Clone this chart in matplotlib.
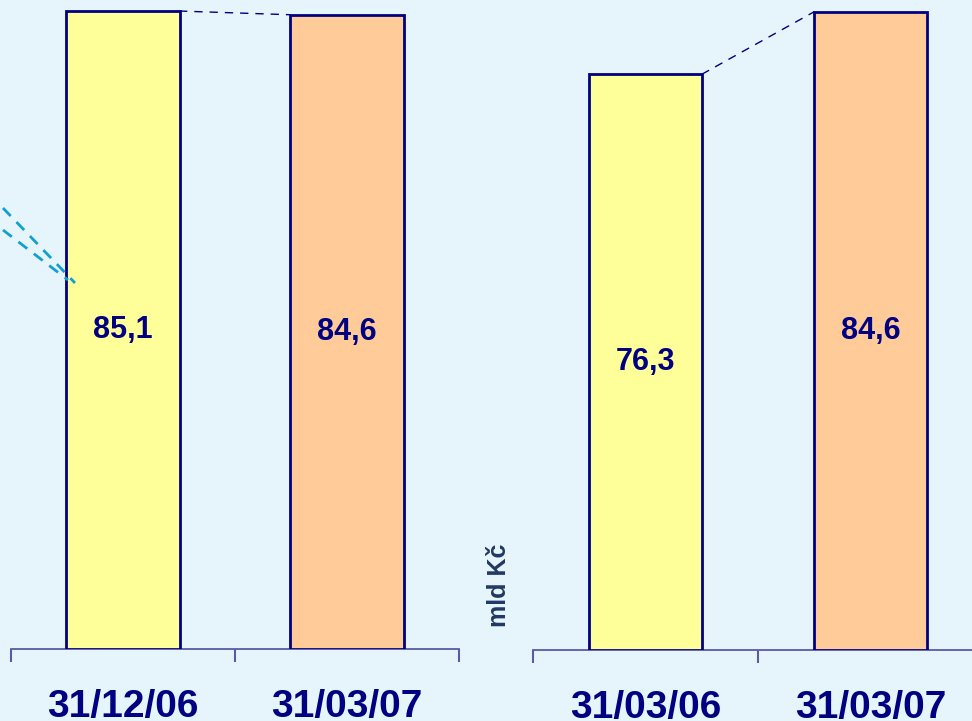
import matplotlib
matplotlib.use("Agg")
import matplotlib.pyplot as plt
from matplotlib.lines import Line2D

# data
left_dates = ["31/12/06", "31/03/07"]
left_values = [85.1, 84.6]
right_dates = ["31/03/06", "31/03/07"]
right_values = [76.3, 84.6]
unit_label = "mld Kč"

bg = "#E6F5FC"
navy = "#000080"
axis_col = "#5A5AA6"
bar_colors = ["#FFFF99", "#FFCC99"]

plt.rcParams['font.family'] = ['Liberation Sans', 'DejaVu Sans']

W, H = 972, 721
fig = plt.figure(figsize=(W / 100, H / 100), dpi=100)
fig.patch.set_facecolor(bg)


def panel(rect, dates, values, ymax):
    ax = fig.add_axes(rect)
    ax.set_facecolor(bg)
    ax.patch.set_alpha(0)
    x = list(range(len(values)))
    ax.bar(x, values, width=0.505, color=bar_colors, edgecolor=navy,
           linewidth=2, zorder=3)
    # dashed connector between bar tops
    ax.plot([x[0] + 0.25, x[1] - 0.25], [values[0], values[1]],
            linestyle=(0, (6, 5)), color=navy, linewidth=1, zorder=2)
    for xi, v in zip(x, values):
        ax.text(xi, v / 2, f"{v:.1f}".replace(".", ","), ha="center",
                va="center", fontsize=22, fontweight="bold", color=navy,
                zorder=4)
    ax.set_xlim(-0.5, 1.5)
    ax.set_ylim(0, ymax)
    for s in ["left", "right", "top"]:
        ax.spines[s].set_visible(False)
    ax.spines["bottom"].set_color(axis_col)
    ax.spines["bottom"].set_linewidth(1.3)
    ax.set_yticks([])
    ax.set_xticks([-0.5, 0.5, 1.5])
    ax.set_xticklabels([])
    ax.tick_params(axis="x", which="major", length=9, width=1.5,
                   color=axis_col, direction="out")
    ax.set_xticks(x, minor=True)
    ax.set_xticklabels(dates, minor=True, fontsize=28, fontweight="bold",
                       color=navy)
    ax.tick_params(axis="x", which="minor", length=0, pad=29)
    return ax


ax1 = panel([11 / W, (H - 649) / H, 448 / W, 649 / H],
            left_dates, left_values, 86.57)
ax2 = panel([533 / W, (H - 650) / H, 450 / W, 650 / H],
            right_dates, right_values, 86.15)

fig.text(499 / W, 1 - 585 / H, unit_label, rotation=90, ha="center",
         va="center", fontsize=18, fontweight="bold", color="#203864")

# leftover cyan callout lines at the left edge
for (x0, y0), (x1, y1) in [((3, 208), (75, 283)), ((3, 230), (68, 280))]:
    fig.add_artist(Line2D([x0 / W, x1 / W], [1 - y0 / H, 1 - y1 / H],
                          transform=fig.transFigure, color="#12A0D0",
                          linewidth=2, linestyle=(0, (4, 3))))

fig.savefig("out.png", dpi=100, facecolor=bg)
